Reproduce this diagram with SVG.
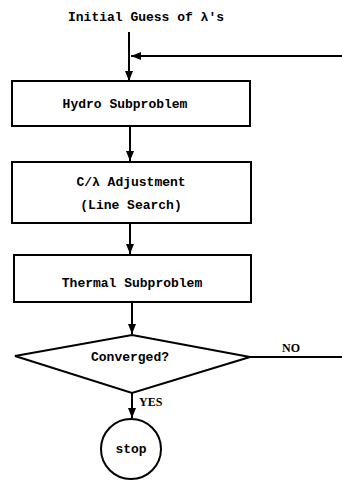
<svg xmlns="http://www.w3.org/2000/svg" width="342" height="480" viewBox="0 0 342 480">
<style>
.box{fill:#fff;stroke:#000;stroke-width:2}
.ln{fill:none;stroke:#000;stroke-width:2}
.t{font-family:"Liberation Mono","DejaVu Sans Mono",monospace;font-weight:bold;font-size:13px;fill:#000;text-anchor:middle}
.s{font-family:"Liberation Serif","Times New Roman",serif;font-weight:bold;font-size:12px;fill:#000}
</style>
<defs>
<marker id="ah" viewBox="0 0 10 10" refX="10" refY="5" markerWidth="5" markerHeight="5" orient="auto" markerUnits="strokeWidth">
<path d="M0,1 L10,5 L0,9 Z" fill="#000"/>
</marker>
</defs>
<rect width="342" height="480" fill="#fff"/>
<text class="t" x="146" y="21">Initial Guess of λ's</text>
<g id="connectors">
<line class="ln" x1="129" y1="32" x2="129" y2="81" marker-end="url(#ah)"/>
<line class="ln" x1="342" y1="56" x2="131" y2="56" marker-end="url(#ah)"/>
<line class="ln" x1="130" y1="126" x2="130" y2="161" marker-end="url(#ah)"/>
<line class="ln" x1="130" y1="223" x2="130" y2="254" marker-end="url(#ah)"/>
<line class="ln" x1="132" y1="302" x2="132" y2="334" marker-end="url(#ah)"/>
<line class="ln" x1="132" y1="393" x2="132" y2="418" marker-end="url(#ah)"/>
<line class="ln" x1="250" y1="357" x2="342" y2="357"/>
<text class="s" x="282" y="352">NO</text>
<text class="s" x="139" y="406">YES</text>
</g>
<g id="hydro">
<rect class="box" x="12" y="81" width="238" height="45"/>
<text class="t" x="125" y="108">Hydro Subproblem</text>
</g>
<g id="adjust">
<rect class="box" x="12" y="162" width="239" height="61"/>
<text class="t" x="131" y="186">C/λ Adjustment</text>
<text class="t" x="131" y="209">(Line Search)</text>
</g>
<g id="thermal">
<rect class="box" x="14" y="255" width="237" height="47"/>
<text class="t" x="132" y="287">Thermal Subproblem</text>
</g>
<g id="converged">
<polygon class="box" points="132,335 250,357 132,393 15,356"/>
<text class="t" x="130" y="361">Converged?</text>
</g>
<g id="stop">
<circle class="box" cx="131" cy="449" r="30"/>
<text class="t" x="131" y="453">stop</text>
</g>
</svg>
